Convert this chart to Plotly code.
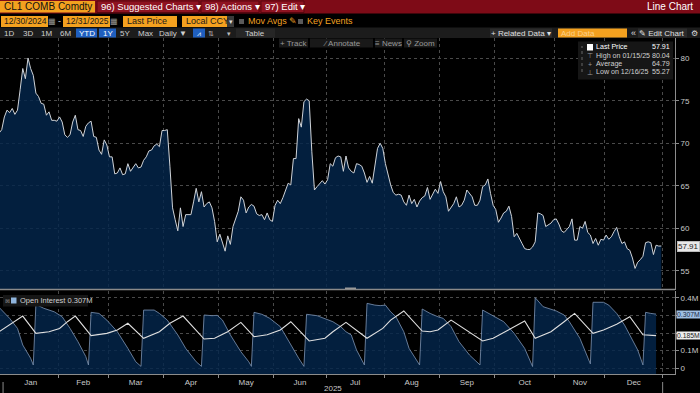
import numpy as np
import pandas as pd
import plotly.graph_objects as go

W, H = 700, 393
FONT = "Liberation Sans, Arial, sans-serif"

# ---------------- DATA ----------------
holidays = ["2025-01-01", "2025-01-20", "2025-02-17", "2025-04-18", "2025-05-26",
            "2025-06-19", "2025-07-04", "2025-09-01", "2025-11-27", "2025-12-25"]
dates = [d for d in pd.bdate_range("2024-12-30", "2025-12-31")
         if d.strftime("%Y-%m-%d") not in holidays]

price = [
    # Dec 30-31, Jan
    71.2, 71.6, 73.1, 73.9, 73.6, 74.1, 73.4, 73.9, 76.3, 78.8, 77.6, 80.04, 78.8, 78.0,
    75.9, 75.5, 74.7, 74.6, 73.3, 73.7, 72.7, 72.7, 72.6,
    # Feb
    73.1, 72.5, 71.0, 70.7, 71.0, 72.5, 73.3, 71.6, 71.5, 70.8, 72.0, 72.4, 72.6, 70.8,
    70.7, 69.2, 68.7, 70.4, 69.8,
    # Mar
    68.4, 68.4, 66.4, 66.5, 67.1, 66.3, 66.4, 67.6, 66.7, 67.2, 67.6, 67.1, 67.2, 68.0,
    68.4, 69.1, 69.2, 69.7, 69.9, 69.6, 71.5,
    # Apr
    71.5, 71.6, 67.3, 62.4, 61.0, 59.7, 62.4, 60.2, 61.6, 61.6, 61.6, 63.1, 64.7, 63.1,
    64.3, 62.5, 62.9, 63.1, 62.4, 60.8, 58.4,
    # May
    59.3, 58.4, 57.3, 59.1, 58.1, 60.2, 61.2, 62.0, 63.7, 63.3, 61.8, 62.5, 62.8, 62.6,
    61.7, 61.5, 61.6, 61.0, 61.8, 61.0, 60.8,
    # Jun
    62.7, 63.3, 62.9, 63.6, 64.5, 65.3, 65.1, 68.2, 68.2, 72.9, 71.9, 74.9, 75.2, 75.0,
    69.0, 64.5, 64.9, 65.3, 65.6, 65.2,
    # Jul
    65.7, 67.6, 67.3, 68.3, 68.5, 68.4, 66.7, 68.5, 67.1, 66.7, 66.5, 67.6, 67.5, 67.3,
    66.5, 65.4, 66.1, 65.3, 67.5, 69.4, 70.0, 69.4,
    # Aug
    67.6, 66.3, 65.1, 64.2, 63.9, 64.0, 63.9, 63.1, 62.7, 63.9, 62.9, 63.4, 62.5, 63.2,
    63.6, 63.8, 64.8, 63.4, 64.1, 64.6, 64.1,
    # Sep
    65.5, 64.3, 63.7, 62.0, 62.4, 62.9, 63.7, 62.5, 62.7, 63.3, 64.5, 64.1, 63.7, 62.7,
    62.7, 63.3, 64.9, 65.1, 65.8, 64.1, 62.7,
    # Oct
    62.2, 60.7, 61.2, 61.8, 62.0, 62.6, 61.4, 59.0, 59.4, 58.7, 58.2, 57.6, 57.5, 57.5,
    57.8, 58.4, 61.8, 61.7, 61.5, 60.2, 60.4, 60.6, 61.0,
    # Nov
    61.1, 60.5, 59.7, 59.5, 59.8, 60.2, 61.1, 58.6, 58.6, 60.2, 60.0, 60.8, 59.5, 59.2,
    58.2, 58.8, 58.0, 58.7, 58.6,
    # Dec
    59.2, 58.7, 59.0, 59.6, 60.1, 59.0, 58.2, 58.4, 57.6, 57.4, 56.5, 55.27, 56.0, 56.3,
    56.7, 58.3, 58.4, 58.3, 56.9, 58.0, 57.9, 57.91,
]

# Open interest (front contract, millions) at trading-session numbers
oi_session = [0, 4, 7, 9, 12, 13, 14, 17, 21, 24, 27, 30, 33, 34, 35, 38, 41, 45, 49, 52,
              54, 55, 59, 61, 64, 68, 71, 75, 77, 78, 81, 83, 85, 88, 92, 95, 96, 97, 100,
              103, 107, 111, 114, 116, 117, 121, 125, 127, 130, 132, 134, 136, 139, 140,
              143, 145, 147, 149, 151, 154, 156, 160, 161, 164, 167, 169, 172, 175, 179,
              183, 184, 187, 189, 192, 196, 200, 203, 204, 207, 210, 212, 215, 217, 221,
              225, 226, 230, 232, 235, 238, 241, 243, 245, 246, 248, 250]
oi_value = [0.345, 0.283, 0.226, 0.132, 0.057, 0.019, 0.362, 0.340, 0.320, 0.292, 0.226,
            0.151, 0.066, 0.019, 0.317, 0.311, 0.273, 0.207, 0.113, 0.037, 0.011, 0.330,
            0.330, 0.311, 0.273, 0.189, 0.113, 0.037, 0.011, 0.302, 0.298, 0.300, 0.273,
            0.189, 0.094, 0.037, 0.011, 0.317, 0.306, 0.283, 0.236, 0.132, 0.057, 0.011,
            0.306, 0.298, 0.273, 0.264, 0.236, 0.207, 0.189, 0.104, 0.019, 0.368, 0.358,
            0.355, 0.358, 0.320, 0.292, 0.207, 0.113, 0.019, 0.336, 0.311, 0.292, 0.283,
            0.236, 0.151, 0.075, 0.019, 0.330, 0.306, 0.292, 0.264, 0.198, 0.113, 0.010,
            0.400, 0.349, 0.336, 0.325, 0.302, 0.264, 0.170, 0.025, 0.374, 0.374, 0.358,
            0.311, 0.245, 0.160, 0.104, 0.019, 0.317, 0.311, 0.307]

# second series (white line, millions)
oi2_session = [0, 9, 14, 19, 23, 26, 29, 35, 41, 45, 49, 55, 61, 65, 70, 78, 82, 87, 92,
               97, 102, 107, 111, 118, 124, 127, 132, 140, 146, 149, 154, 161, 164, 167,
               172, 184, 188, 194, 200, 204, 210, 215, 219, 226, 230, 235, 240, 245, 250]
oi2_value = [0.207, 0.296, 0.198, 0.207, 0.226, 0.264, 0.296, 0.185, 0.198, 0.217, 0.255,
             0.170, 0.207, 0.255, 0.296, 0.166, 0.170, 0.207, 0.260, 0.179, 0.190, 0.217,
             0.264, 0.155, 0.170, 0.207, 0.260, 0.170, 0.226, 0.273, 0.325, 0.211, 0.207,
             0.217, 0.273, 0.155, 0.170, 0.217, 0.268, 0.170, 0.207, 0.264, 0.311, 0.198,
             0.217, 0.250, 0.292, 0.190, 0.185]

price_ticks = [55, 60, 65, 70, 75, 80]
oi_ticks = [0, 0.1, 0.2, 0.3, 0.4]
oi_tick_text = ["0", "0.1M", "", "", "0.4M"]
month_names = ["Jan", "Feb", "Mar", "Apr", "May", "Jun", "Jul", "Aug", "Sep", "Oct", "Nov", "Dec"]
legend_rows = ["Last Price", "High on 01/15/25", "Average", "Low on 12/16/25"]
legend_vals = ["57.91", "80.04", "64.79", "55.27"]

assert len(price) == len(dates), (len(price), len(dates))

# ---------------- derived axis positions ----------------
idx = np.arange(len(dates))
month_starts = [i for i in range(1, len(dates)) if dates[i].month != dates[i - 1].month]
bounds = [i - 0.5 for i in month_starts] + [len(dates) - 0.5]
mids = [(bounds[k] + bounds[k + 1]) / 2 for k in range(len(bounds) - 1)]
grid_x = bounds[1:]

XR = [0.34, 257.2]
XD = [0, 675 / W]


def py(y):
    return 1 - y / H


price_dom = [py(289.5), py(38)]
oi_dom = [py(374), py(290.5)]

fig = go.Figure()
fig.add_trace(go.Scatter(x=idx, y=price, mode="lines", fill="tozeroy",
                         line=dict(color="#cfd3d8", width=1),
                         fillcolor="rgba(4,38,76,0.82)",
                         xaxis="x", yaxis="y", hoverinfo="skip"))
fig.add_trace(go.Scatter(x=[oi_session[0], oi_session[-1]], y=[-0.1, -0.1], mode="lines",
                         line=dict(width=0), xaxis="x2", yaxis="y2", hoverinfo="skip"))
fig.add_trace(go.Scatter(x=oi_session, y=oi_value, mode="lines", fill="tonexty",
                         line=dict(color="#7f95b5", width=0.8),
                         fillcolor="rgba(4,38,76,0.82)",
                         xaxis="x2", yaxis="y2", hoverinfo="skip"))
fig.add_trace(go.Scatter(x=oi2_session, y=oi2_value, mode="lines",
                         line=dict(color="#e0e0e0", width=1.1),
                         xaxis="x2", yaxis="y2", hoverinfo="skip"))

GRID = "#4a4a4a"
AX = "#8c8c8c"
TICKF = dict(family=FONT, size=8, color="#c8c8c8")

fig.update_layout(
    width=W, height=H, margin=dict(l=0, r=0, t=0, b=0, autoexpand=False),
    paper_bgcolor="#000000", plot_bgcolor="#000000", showlegend=False,
    xaxis=dict(domain=XD, range=XR, anchor="y", tickmode="array", tickvals=grid_x,
               showticklabels=False, ticks="", showgrid=True, gridcolor=GRID,
               griddash="dot", gridwidth=1, zeroline=False, showline=False),
    yaxis=dict(domain=price_dom, range=[52.79, 82.39], anchor="x", side="right",
               tickmode="array", tickvals=price_ticks, ticks="outside", ticklen=3,
               tickcolor=AX, showline=True, linecolor=AX, linewidth=1,
               showgrid=True, gridcolor=GRID, griddash="dot", zeroline=False,
               tickfont=TICKF),
    xaxis2=dict(domain=XD, range=XR, anchor="y2", tickmode="array", tickvals=mids,
                ticktext=month_names, ticks="", showgrid=False, zeroline=False,
                showline=True, linecolor=AX, linewidth=1, tickfont=TICKF,
                minor=dict(tickmode="array", tickvals=grid_x, ticks="outside", ticklen=3,
                           tickcolor=AX, showgrid=True, gridcolor=GRID, griddash="dot")),
    yaxis2=dict(domain=oi_dom, range=[-0.0323, 0.4408], anchor="x2", side="right",
                tickmode="array", tickvals=oi_ticks, ticktext=oi_tick_text,
                ticks="outside", ticklen=3, tickcolor=AX, showline=True, linecolor=AX,
                linewidth=1, showgrid=True, gridcolor=GRID, griddash="dot",
                zeroline=False, tickfont=TICKF),
)

shapes = []
ann = []


def rect(x0, y0, x1, y1, fill, line=None, lw=0):
    shapes.append(dict(type="rect", xref="paper", yref="paper", x0=x0 / W, x1=x1 / W,
                       y0=py(y1), y1=py(y0), fillcolor=fill,
                       line=dict(width=lw, color=line or fill), layer="above"))


def text(x, y, s, size=9, color="#ffffff", anchor="left"):
    ann.append(dict(xref="paper", yref="paper", x=x / W, y=py(y), text=s, showarrow=False,
                    xanchor=anchor, yanchor="middle", borderpad=0,
                    font=dict(family=FONT, size=size, color=color)))


# Row 1 red title bar
rect(0, 0, 700, 13.5, "#7e0b17")
rect(0, 1, 95, 12.5, "#f4a11f")
text(3, 7, "CL1 COMB Comdty", 10, "#111111")
rect(97, 1, 199, 12.5, "#8e1321", "#5a0610", 1)
text(100, 7, "96) Suggested Charts ▾", 9.5, "#ffffff")
rect(201, 1, 259, 12.5, "#8e1321", "#5a0610", 1)
text(204, 7, "98) Actions ▾", 9.5, "#ffffff")
rect(261, 1, 304, 12.5, "#8e1321", "#5a0610", 1)
text(264, 7, "97) Edit ▾", 9.5, "#ffffff")
text(694, 7, "Line Chart", 10, "#ffffff", "right")

# Row 2 inputs
yr2 = 21.5
rect(1, 16, 48, 27, "#f4a11f")
text(3, yr2, "12/30/2024", 8.5, "#1a1a1a")
text(52, yr2, "▦", 8, "#9a9a9a", "center")
text(59, yr2, "-", 9, "#cccccc", "center")
rect(63, 16, 110, 27, "#f4a11f")
text(65, yr2, "12/31/2025", 8.5, "#1a1a1a")
text(114, yr2, "▦", 8, "#9a9a9a", "center")
rect(123, 16, 177, 27, "#f4a11f")
text(126, yr2, "Last Price", 9, "#1a1a1a")
rect(182, 16, 227, 27, "#f4a11f")
text(185, yr2, "Local CCY", 9, "#1a1a1a")
rect(227, 16, 234, 27, "#3a3a3a")
text(230.5, yr2, "▾", 7, "#dddddd", "center")
rect(239, 19, 244, 24, "#5a5a5a")
text(247, yr2, "Mov Avgs ✎", 9, "#f0a020")
rect(298, 19, 303, 24, "#5a5a5a")
text(306, yr2, "Key Events", 9, "#f0a020")

# Row 3 toolbar
yr3 = 33
rect(0, 27.5, 700, 38, "#1c1c1c")
for lbl, cx in [("1D", 9), ("3D", 28), ("1M", 46), ("6M", 65), ("5Y", 124.5), ("Max", 145)]:
    text(cx, yr3, lbl, 8, "#cfcfcf", "center")
rect(76, 28.5, 97, 37.5, "#1f5fbf")
text(86.5, yr3, "YTD", 8, "#ffffff", "center")
rect(99, 28.5, 116, 37.5, "#1f5fbf")
text(107.5, yr3, "1Y", 8, "#ffffff", "center")
text(173, yr3, "Daily ▼", 8, "#cfcfcf", "center")
rect(193, 28.5, 205, 37.5, "#1f5fbf")
text(199, yr3, "⩘", 7, "#ffffff", "center")
text(211, yr3, "⇅", 7, "#bbbbbb", "center")
text(229, yr3, "▾", 7, "#bbbbbb", "center")
rect(236, 28.5, 275, 37.5, "#262626")
text(255, yr3, "Table", 8, "#cfcfcf", "center")
rect(490, 28.5, 552, 37.5, "#2b2b2b")
text(521, yr3, "+ Related Data ▾", 8, "#e0e0e0", "center")
rect(558, 28.5, 627, 37.5, "#f4a11f")
text(560, yr3, "Add Data", 8, "#fbd08a")
text(633, yr3, "«", 9, "#dddddd", "center")
rect(638, 28.5, 687, 37.5, "#2b2b2b")
text(662, yr3, "✎ Edit Chart", 8, "#e0e0e0", "center")
text(694, yr3, "⚙", 8, "#dddddd", "center")

# in-plot toolbar
yt = 43
for x0, x1, lbl in [(279, 308, "+ Track"), (310, 373, "⁄ Annotate"),
                    (375, 402, "≡ News"), (404, 437, "⚲ Zoom")]:
    rect(x0, 38.5, x1, 47.5, "#191919")
    text((x0 + x1) / 2, yt, lbl, 8, "#9a9a9a", "center")

# price legend box
rect(578, 41.5, 673, 79.5, "#161616")
shapes.append(dict(type="line", xref="paper", yref="paper", x0=582 / W, x1=582 / W,
                   y0=py(72), y1=py(46), line=dict(color="#666666", width=1, dash="dot"),
                   layer="above"))
rect(587, 44, 593, 50.5, "#ffffff")
rows_y = [47.3, 55.7, 64.0, 72.3]
icons = ["", "⊤", "+", "⊥"]
for k in range(4):
    if icons[k]:
        text(590, rows_y[k], icons[k], 7, "#9a9a9a", "center")
    col = "#ffffff" if k == 0 else "#d0d0d0"
    text(594.5, rows_y[k], legend_rows[k], 7.1, col, "left")
    text(671, rows_y[k], legend_vals[k], 7.1, col, "right")

# OI legend
rect(3, 295, 88, 306.5, "#161616")
text(7.5, 300.7, "⊠", 6, "#888888", "center")
rect(11, 297.5, 16.5, 303.5, "#8fb4dc")
text(19, 300.7, "Open Interest 0.307M", 7.5, "#d0d0d0")

# separator between panels + handle
shapes.append(dict(type="line", xref="paper", yref="paper", x0=0, x1=675 / W,
                   y0=py(289.6), y1=py(289.6), line=dict(color="#8a8a8a", width=1.5),
                   layer="above"))
rect(345, 287.5, 356, 289, "#9a9a9a")

# year boundary ticks
for b in [bounds[0], bounds[-1]]:
    shapes.append(dict(type="line", xref="x2", yref="paper", x0=b, x1=b, y0=0,
                       y1=py(382), line=dict(color="#8a8a8a", width=1), layer="above"))
text(333, 388.5, "2025", 8, "#c8c8c8", "center")

# value boxes on right axis
ann.append(dict(xref="paper", yref="y", x=676.5 / W, y=price[-1], text="%.2f" % price[-1],
                showarrow=False, xanchor="left", yanchor="middle", bgcolor="#e8e8e8",
                bordercolor="#bbbbbb", borderwidth=1, borderpad=0,
                font=dict(family=FONT, size=8, color="#222222")))
ann.append(dict(xref="paper", yref="y2", x=676 / W, y=oi_value[-1], text="0.307M",
                showarrow=False, xanchor="left", yanchor="middle", bgcolor="#9fbfe3",
                borderpad=0, font=dict(family=FONT, size=6.8, color="#1b2b48")))
ann.append(dict(xref="paper", yref="y2", x=676 / W, y=oi2_value[-1], text="0.185M",
                showarrow=False, xanchor="left", yanchor="middle", bgcolor="#eeeeee",
                borderpad=0, font=dict(family=FONT, size=6.8, color="#222222")))

fig.update_layout(shapes=shapes, annotations=ann)
fig.write_html("out.html", config={"displayModeBar": False},
               post_script="document.body.style.margin='0';document.body.style.overflow='hidden';")
